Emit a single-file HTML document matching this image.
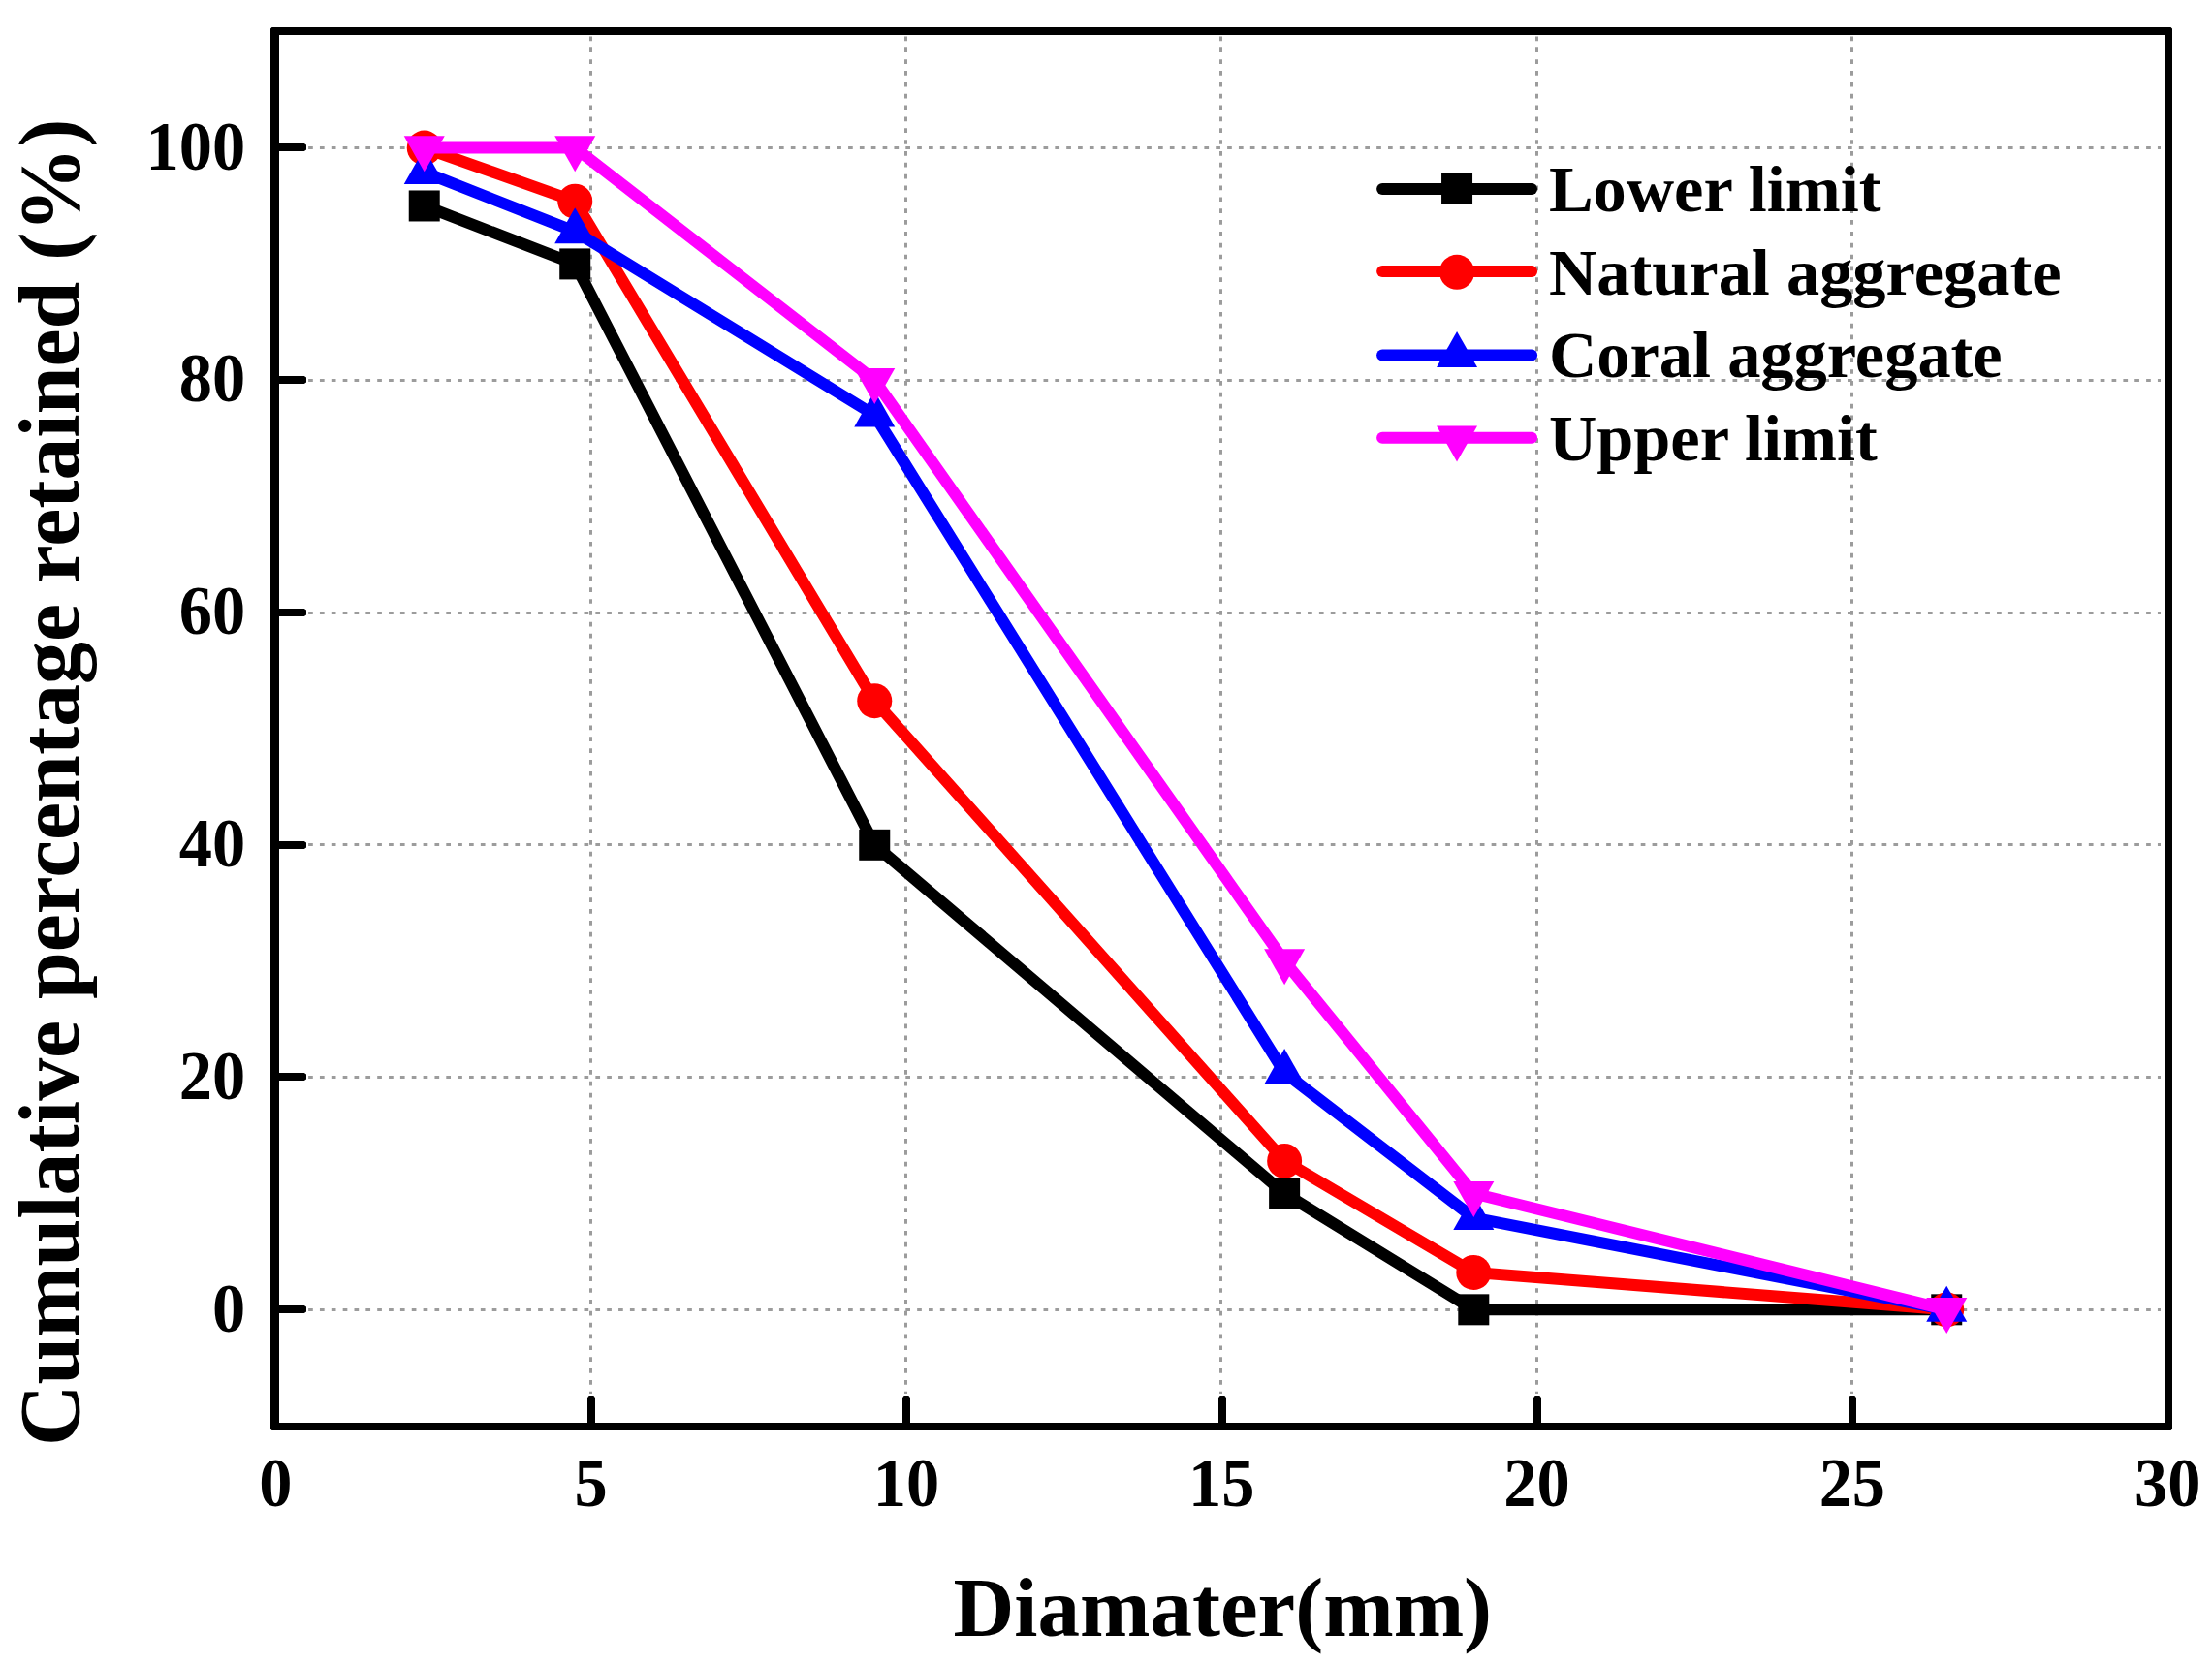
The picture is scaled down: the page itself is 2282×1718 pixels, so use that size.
<!DOCTYPE html>
<html><head><meta charset="utf-8"><title>Gradation curves</title>
<style>
html,body{margin:0;padding:0;background:#fff;}
body{width:2282px;height:1718px;overflow:hidden;}
svg{display:block;}
text{font-family:"Liberation Serif","Times New Roman",serif;font-weight:bold;fill:#000;}
.tk{font-size:68.4px;}
.lg{font-size:68.4px;}
</style></head><body>
<svg width="2282" height="1718" viewBox="0 0 2282 1718">
<rect width="2282" height="1718" fill="#fff"/>
<g stroke="#9c9c9c" stroke-width="3" stroke-dasharray="4.7 7.15" fill="none">
<line x1="609.5" y1="37.5" x2="609.5" y2="1438"/>
<line x1="934.5" y1="37.5" x2="934.5" y2="1438"/>
<line x1="1259.5" y1="37.5" x2="1259.5" y2="1438"/>
<line x1="1585.5" y1="37.5" x2="1585.5" y2="1438"/>
<line x1="1910.5" y1="37.5" x2="1910.5" y2="1438"/>
<line x1="318.1" y1="1351.5" x2="2229" y2="1351.5"/>
<line x1="318.1" y1="1111.5" x2="2229" y2="1111.5"/>
<line x1="318.1" y1="871.5" x2="2229" y2="871.5"/>
<line x1="318.1" y1="632.5" x2="2229" y2="632.5"/>
<line x1="318.1" y1="392.5" x2="2229" y2="392.5"/>
<line x1="318.1" y1="152.5" x2="2229" y2="152.5"/>
</g>
<polyline points="437.74,212.47 593.23,272.41 902.25,871.81 1325.13,1231.45 1520.30,1351.33 2008.24,1351.33" fill="none" stroke="#000000" stroke-width="12" stroke-linejoin="round" stroke-linecap="butt"/>
<rect x="421.74" y="196.47" width="32" height="32" fill="#000000"/>
<rect x="577.23" y="256.41" width="32" height="32" fill="#000000"/>
<rect x="886.25" y="855.81" width="32" height="32" fill="#000000"/>
<rect x="1309.13" y="1215.45" width="32" height="32" fill="#000000"/>
<rect x="1504.30" y="1335.33" width="32" height="32" fill="#000000"/>
<rect x="1992.24" y="1335.33" width="32" height="32" fill="#000000"/>
<polyline points="437.74,152.53 593.23,207.67 902.25,723.16 1325.13,1197.88 1520.30,1312.97 2008.24,1351.33" fill="none" stroke="#ff0000" stroke-width="12" stroke-linejoin="round" stroke-linecap="butt"/>
<circle cx="437.74" cy="152.53" r="18.0" fill="#ff0000"/>
<circle cx="593.23" cy="207.67" r="18.0" fill="#ff0000"/>
<circle cx="902.25" cy="723.16" r="18.0" fill="#ff0000"/>
<circle cx="1325.13" cy="1197.88" r="18.0" fill="#ff0000"/>
<circle cx="1520.30" cy="1312.97" r="18.0" fill="#ff0000"/>
<circle cx="2008.24" cy="1351.33" r="18.0" fill="#ff0000"/>
<polyline points="437.74,177.70 593.23,238.84 902.25,428.25 1325.13,1106.77 1520.30,1256.62 2008.24,1351.33" fill="none" stroke="#0000ff" stroke-width="12" stroke-linejoin="round" stroke-linecap="butt"/>
<polygon points="416.74,190.04 458.74,190.04 437.74,153.04" fill="#0000ff"/>
<polygon points="572.23,251.18 614.23,251.18 593.23,214.18" fill="#0000ff"/>
<polygon points="881.25,440.59 923.25,440.59 902.25,403.59" fill="#0000ff"/>
<polygon points="1304.13,1119.11 1346.13,1119.11 1325.13,1082.11" fill="#0000ff"/>
<polygon points="1499.30,1268.96 1541.30,1268.96 1520.30,1231.96" fill="#0000ff"/>
<polygon points="1987.24,1363.66 2029.24,1363.66 2008.24,1326.66" fill="#0000ff"/>
<polyline points="437.74,152.53 593.23,152.53 902.25,392.29 1325.13,991.69 1520.30,1231.45 2008.24,1351.33" fill="none" stroke="#ff00ff" stroke-width="12" stroke-linejoin="round" stroke-linecap="butt"/>
<polygon points="416.74,140.20 458.74,140.20 437.74,177.20" fill="#ff00ff"/>
<polygon points="572.23,140.20 614.23,140.20 593.23,177.20" fill="#ff00ff"/>
<polygon points="881.25,379.96 923.25,379.96 902.25,416.96" fill="#ff00ff"/>
<polygon points="1304.13,979.36 1346.13,979.36 1325.13,1016.36" fill="#ff00ff"/>
<polygon points="1499.30,1219.12 1541.30,1219.12 1520.30,1256.12" fill="#ff00ff"/>
<polygon points="1987.24,1339.00 2029.24,1339.00 2008.24,1376.00" fill="#ff00ff"/>
<path fill="#000" fill-rule="evenodd" d="M280.5,28H2239.5L2241,29.5V1474.5L2239.5,1476H280.5L279,1474.5V29.5Z M288,36V1468H2233V36Z"/>
<g fill="#000">
<path d="M606,1469V1442.2L607.6,1440H612.4L614,1442.2V1469Z"/>
<path d="M931,1469V1442.2L932.6,1440H937.4L939,1442.2V1469Z"/>
<path d="M1257,1469V1442.2L1258.6,1440H1263.4L1265,1442.2V1469Z"/>
<path d="M1582,1469V1442.2L1583.6,1440H1588.4L1590,1442.2V1469Z"/>
<path d="M1907,1469V1442.2L1908.6,1440H1913.4L1915,1442.2V1469Z"/>
<path d="M287,1347H313.8L316,1348.6V1353.4L313.8,1355H287Z"/>
<path d="M287,1107H313.8L316,1108.6V1113.4L313.8,1115H287Z"/>
<path d="M287,868H313.8L316,869.6V874.4L313.8,876H287Z"/>
<path d="M287,628H313.8L316,629.6V634.4L313.8,636H287Z"/>
<path d="M287,388H313.8L316,389.6V394.4L313.8,396H287Z"/>
<path d="M287,148H313.8L316,149.6V154.4L313.8,156H287Z"/>
</g>
<text class="tk" transform="translate(284.40,1554.2) scale(1,1.05)" text-anchor="middle">0</text>
<text class="tk" transform="translate(609.69,1554.2) scale(1,1.05)" text-anchor="middle">5</text>
<text class="tk" transform="translate(934.98,1554.2) scale(1,1.05)" text-anchor="middle">10</text>
<text class="tk" transform="translate(1260.27,1554.2) scale(1,1.05)" text-anchor="middle">15</text>
<text class="tk" transform="translate(1585.56,1554.2) scale(1,1.05)" text-anchor="middle">20</text>
<text class="tk" transform="translate(1910.85,1554.2) scale(1,1.05)" text-anchor="middle">25</text>
<text class="tk" transform="translate(2236.14,1554.2) scale(1,1.05)" text-anchor="middle">30</text>
<text class="tk" transform="translate(253.2,1373.53) scale(1,1.05)" text-anchor="end">0</text>
<text class="tk" transform="translate(253.2,1133.77) scale(1,1.05)" text-anchor="end">20</text>
<text class="tk" transform="translate(253.2,894.01) scale(1,1.05)" text-anchor="end">40</text>
<text class="tk" transform="translate(253.2,654.25) scale(1,1.05)" text-anchor="end">60</text>
<text class="tk" transform="translate(253.2,414.49) scale(1,1.05)" text-anchor="end">80</text>
<text class="tk" transform="translate(253.2,174.73) scale(1,1.05)" text-anchor="end">100</text>
<text transform="translate(1261.3,1688.3) scale(1,1.0)" text-anchor="middle" style="font-size:87px">Diamater(mm)</text>
<text transform="translate(81.3,807.2) rotate(-90) scale(1,1.0)" text-anchor="middle" style="font-size:87.8px">Cumulative percentage retained (%)</text>
<line x1="1426.1" y1="194.9" x2="1580.1" y2="194.9" stroke="#000000" stroke-width="12" stroke-linecap="round"/>
<rect x="1487.05" y="179.00" width="32" height="32" fill="#000000"/>
<text class="lg" transform="translate(1597.9,218.1) scale(1,1.0)">Lower limit</text>
<line x1="1426.1" y1="279.9" x2="1580.1" y2="279.9" stroke="#ff0000" stroke-width="12" stroke-linecap="round"/>
<circle cx="1503.05" cy="280.85" r="18.0" fill="#ff0000"/>
<text class="lg" transform="translate(1597.9,303.7) scale(1,1.0)">Natural aggregate</text>
<line x1="1426.1" y1="366.45" x2="1580.1" y2="366.45" stroke="#0000ff" stroke-width="12" stroke-linecap="round"/>
<polygon points="1482.05,378.88 1524.05,378.88 1503.05,341.88" fill="#0000ff"/>
<text class="lg" transform="translate(1597.9,389.2) scale(1,1.0)">Coral aggregate</text>
<line x1="1426.1" y1="451.8" x2="1580.1" y2="451.8" stroke="#ff00ff" stroke-width="12" stroke-linecap="round"/>
<polygon points="1482.05,439.57 1524.05,439.57 1503.05,476.57" fill="#ff00ff"/>
<text class="lg" transform="translate(1597.9,474.5) scale(1,1.0)">Upper limit</text>
</svg></body></html>
